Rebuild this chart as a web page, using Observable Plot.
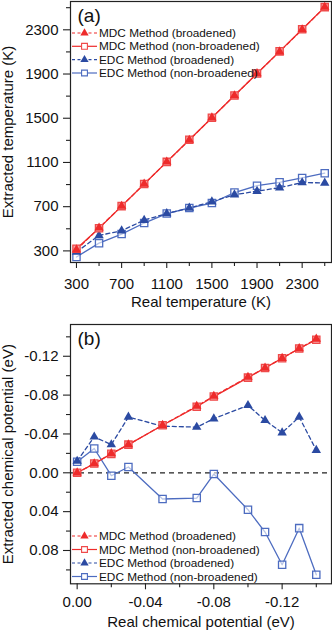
<!DOCTYPE html>
<html><head><meta charset="utf-8">
<script src="https://cdn.jsdelivr.net/npm/d3@7"></script>
<script src="https://cdn.jsdelivr.net/npm/@observablehq/plot@0.6"></script>
<style>
body{margin:0;background:#fff;font-family:Arial,"Liberation Sans",sans-serif}
#chart{position:relative;width:332px;height:634px;overflow:hidden}
#chart svg{display:block}
#legend{position:absolute;left:0;top:0;pointer-events:none}
</style></head><body><div id="chart"></div>
<script>
// ---- Panel (a) data ----
const realT      = [300, 500, 700, 900, 1100, 1300, 1500, 1700, 1900, 2100, 2300, 2500];
const mdcBroadT  = [310, 508, 705, 905, 1105, 1302, 1505, 1705, 1905, 2102, 2302, 2505];
const mdcNonT    = [320, 505, 705, 905, 1105, 1305, 1505, 1705, 1905, 2105, 2305, 2505];
const edcBroadT  = [290, 440, 482, 578, 638, 688, 745, 808, 840, 872, 918, 915];
const edcNonT    = [245, 370, 452, 552, 638, 688, 733, 828, 890, 920, 960, 1003];
const xMajorA = [300, 700, 1100, 1500, 1900, 2300];
const xMinorA = [500, 900, 1300, 1700, 2100, 2500];
const yMajorA = [300, 700, 1100, 1500, 1900, 2300];
const yMinorA = [500, 900, 1300, 1700, 2100, 2500];

// ---- Panel (b) data ----
const realMu     = [0, -0.01, -0.02, -0.03, -0.05, -0.07, -0.08, -0.10, -0.11, -0.12, -0.13, -0.14];
const mdcBroadMu = [0, -0.0095, -0.0198, -0.029, -0.049, -0.0687, -0.079, -0.0985, -0.108, -0.118, -0.128, -0.1377];
const mdcNonMu   = [0, -0.0095, -0.0195, -0.029, -0.049, -0.068, -0.0785, -0.098, -0.108, -0.118, -0.128, -0.137];
const edcBroadMu = [-0.012, -0.037, -0.029, -0.0574, -0.048, -0.047, -0.0557, -0.0694, -0.054, -0.0413, -0.0574, -0.0233];
const edcNonMu   = [-0.0113, -0.025, 0.003, -0.006, 0.027, 0.026, 0.0013, 0.038, 0.061, 0.0947, 0.057, 0.105];
const xMajorB = [0, -0.04, -0.08, -0.12];
const xMinorB = [-0.02, -0.06, -0.10, -0.14];
const yMajorB = [-0.12, -0.08, -0.04, 0, 0.04, 0.08];
const yMinorB = [-0.14, -0.10, -0.06, -0.02, 0.02, 0.06, 0.10];

const seriesNames = ["MDC Method (broadened)", "MDC Method (non-broadened)", "EDC Method (broadened)", "EDC Method (non-broadened)"];

const RED = "#ee2b2b", RED_SQ = "#ef4a4a", BLUE_D = "#2b4aa2", BLUE = "#4d6cc0";
const FONT = "Arial, 'Liberation Sans', sans-serif";
const fmt2 = d => d3.format(".2f")(d).replace("\u2212", "-");

function panel(cfg) {
  const rows = cfg.xs.map((x, i) => ({x, mb: cfg.mb[i], mn: cfg.mn[i], eb: cfg.eb[i], en: cfg.en[i]}));
  const marks = [];
  marks.push(Plot.axisX(cfg.xMaj, {tickSize: 6, tickPadding: cfg.xPad, label: null, tickFormat: cfg.xFmt, fontSize: 15, stroke: "#222", strokeWidth: 1.1}));
  marks.push(Plot.axisX(cfg.xMin, {tickSize: 4, label: null, tickFormat: () => "", stroke: "#222", strokeWidth: 1.1}));
  marks.push(Plot.axisY(cfg.yMaj, {tickSize: 7, tickPadding: 5, label: null, tickFormat: cfg.yFmt, fontSize: 15, stroke: "#222", strokeWidth: 1.1}));
  marks.push(Plot.axisY(cfg.yMin, {tickSize: 4, label: null, tickFormat: () => "", stroke: "#222", strokeWidth: 1.1}));
  if (cfg.zero) marks.push(Plot.ruleY([0], {stroke: "#222", strokeWidth: 1.2, strokeDasharray: "5,4"}));
  marks.push(Plot.line(rows, {x: "x", y: "en", stroke: BLUE, strokeWidth: 1.3}));
  marks.push(Plot.line(rows, {x: "x", y: "eb", stroke: BLUE_D, strokeWidth: 1.3, strokeDasharray: "4,3"}));
  marks.push(Plot.line(rows, {x: "x", y: "mn", stroke: RED, strokeWidth: 1.3}));
  marks.push(Plot.line(rows, {x: "x", y: "mb", stroke: RED, strokeWidth: 1.3, strokeDasharray: "4,3"}));
  marks.push(Plot.dot(rows, {x: "x", y: "en", symbol: "square", r: 4.1, stroke: BLUE, strokeWidth: 1.3, fill: "white", fillOpacity: 0.6}));
  marks.push(Plot.dot(rows, {x: "x", y: "eb", symbol: "triangle", r: 3.5, fill: BLUE_D, stroke: "none"}));
  marks.push(Plot.dot(rows, {x: "x", y: "mn", symbol: "square", r: 4.1, stroke: RED_SQ, strokeWidth: 1.3, fill: "#f6a3a3"}));
  marks.push(Plot.dot(rows, {x: "x", y: "mb", symbol: "triangle", r: 3.5, fill: RED, stroke: "none"}));
  marks.push(Plot.frame({stroke: "#222", strokeWidth: 1.2}));
  marks.push(Plot.text([cfg.tag], {text: d => d, frameAnchor: "top-left", dx: 7, dy: cfg.tagDy, fontSize: 19, textAnchor: "start", lineAnchor: "middle"}));
  marks.push(Plot.text([cfg.xTitle], {text: d => d, frameAnchor: "bottom", dy: cfg.xTitleDy, fontSize: 15, textAnchor: "middle", lineAnchor: "middle"}));
  marks.push(Plot.text([cfg.yTitle], {text: d => d, frameAnchor: "left", dx: -62, rotate: -90, fontSize: 15, textAnchor: "middle", lineAnchor: "middle"}));
  return Plot.plot({
    width: 332, height: cfg.height,
    marginLeft: 70, marginRight: 1, marginTop: cfg.mt, marginBottom: cfg.mb_,
    style: {fontFamily: FONT, fontSize: "15px", color: "#111", background: "transparent", overflow: "visible"},
    x: {domain: cfg.xDom, label: null},
    y: {domain: cfg.yDom, label: null},
    marks
  });
}

const chart = document.getElementById("chart");
chart.appendChild(panel({
  xs: realT, mb: mdcBroadT, mn: mdcNonT, eb: edcBroadT, en: edcNonT,
  xMaj: xMajorA, xMin: xMinorA, yMaj: yMajorA, yMin: yMinorA,
  xFmt: d => String(d), yFmt: d => String(d), xPad: 10,
  height: 310, mt: 1, mb_: 48, xDom: [247, 2560], yDom: [195, 2556],
  tag: "(a)", tagDy: 14, xTitle: "Real temperature (K)", xTitleDy: 39.5, yTitle: "Extracted temperature (K)", zero: false
}));
chart.appendChild(panel({
  xs: realMu, mb: mdcBroadMu, mn: mdcNonMu, eb: edcBroadMu, en: edcNonMu,
  xMaj: xMajorB, xMin: xMinorB, yMaj: yMajorB, yMin: yMinorB,
  xFmt: fmt2, yFmt: fmt2, xPad: 7,
  height: 324, mt: 14, mb_: 50.7, xDom: [0.0039, -0.1489], yDom: [0.1143, -0.1527],
  tag: "(b)", tagDy: 14, xTitle: "Real chemical potential (eV)", xTitleDy: 38.4, yTitle: "Extracted chemical potential (eV)", zero: true
}));

// ---- Legends (overlay) ----
const leg = d3.select(chart).append("svg").attr("id", "legend").attr("width", 332).attr("height", 634)
  .style("font-family", FONT).style("font-size", "11.8px");
const styles = [
  {stroke: RED, dash: "3,2.5", sym: d3.symbolTriangle, fill: RED, sstroke: "none", size: 30},
  {stroke: RED, dash: null, sym: d3.symbolSquare, fill: "white", sstroke: RED_SQ, size: 34},
  {stroke: BLUE_D, dash: "3,2.5", sym: d3.symbolTriangle, fill: BLUE_D, sstroke: "none", size: 30},
  {stroke: BLUE, dash: null, sym: d3.symbolSquare, fill: "white", sstroke: BLUE, size: 34}
];
function legend(ys) {
  seriesNames.forEach((name, i) => {
    const s = styles[i], y = ys[i];
    const g = leg.append("g");
    g.append("line").attr("x1", 72).attr("x2", 97).attr("y1", y).attr("y2", y)
      .attr("stroke", s.stroke).attr("stroke-width", 1.2).attr("stroke-dasharray", s.dash);
    g.append("path").attr("d", d3.symbol(s.sym, s.size)()).attr("transform", `translate(84.5,${y})`)
      .attr("fill", s.fill).attr("stroke", s.sstroke).attr("stroke-width", 1.1);
    g.append("text").attr("x", 99).attr("y", y).attr("dy", "0.35em").attr("fill", "#111").text(name);
  });
}
legend([33, 46.3, 59.7, 73]);
legend([536, 549.5, 563, 576.5]);
</script></body></html>
